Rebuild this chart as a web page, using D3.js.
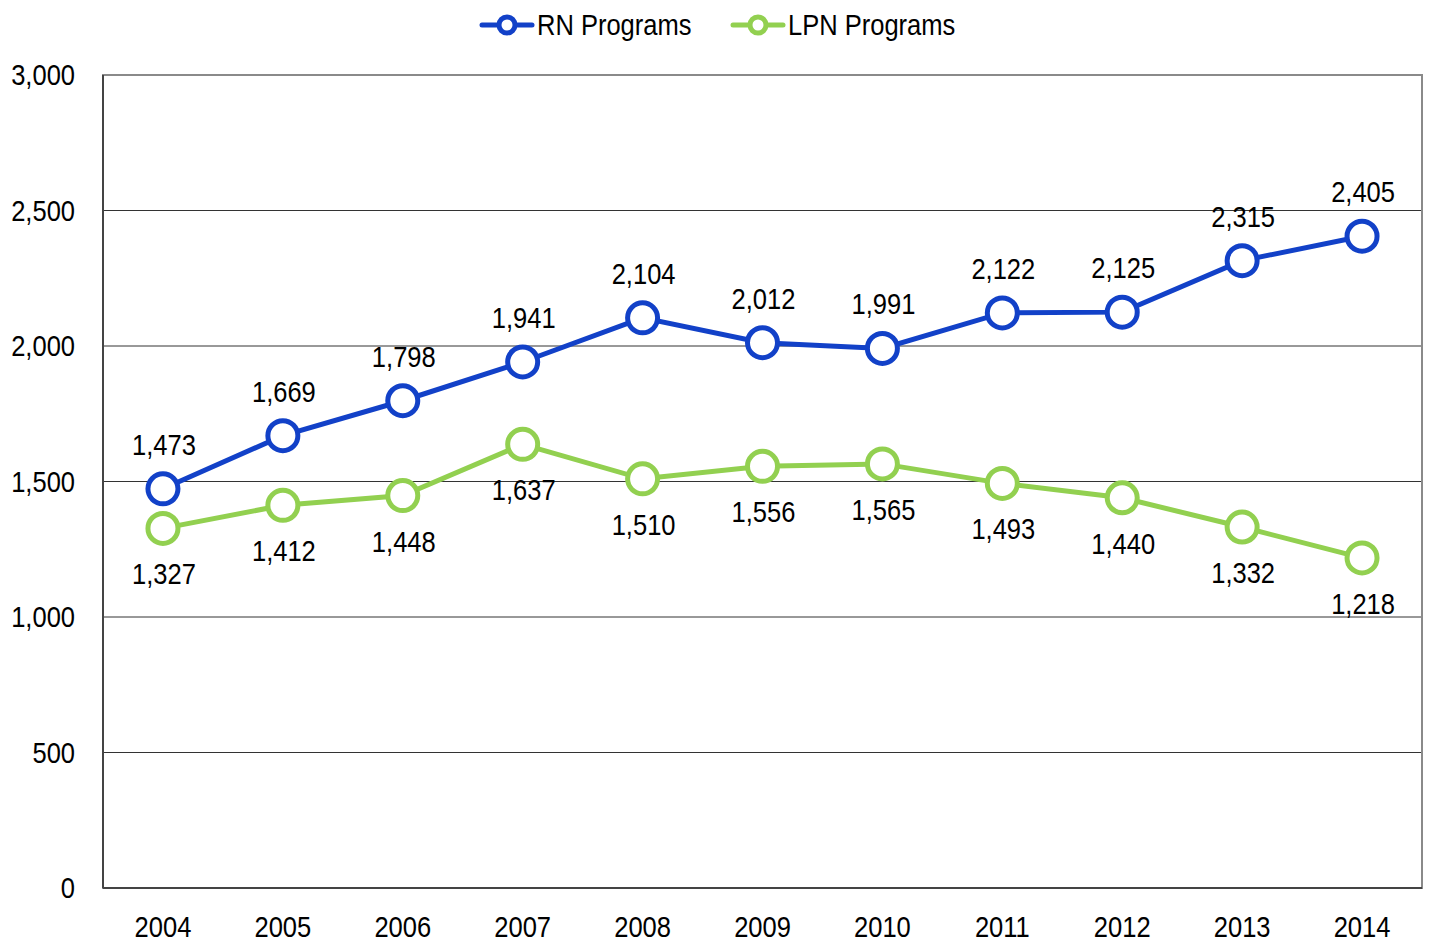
<!DOCTYPE html>
<html>
<head>
<script src="https://d3js.org/d3.v7.min.js"></script>
<style>
  body { margin: 0; background: #fff; }
  text { font-family: "Liberation Sans Narrow", "Arial Narrow", "Liberation Sans", sans-serif; fill: #000; font-size: 29px; }
</style>
</head>
<body>
<svg id="chart"></svg>
<script>
const years = ["2004","2005","2006","2007","2008","2009","2010","2011","2012","2013","2014"];
const rnValues = [1473, 1669, 1798, 1941, 2104, 2012, 1991, 2122, 2125, 2315, 2405];
const lpnValues = [1327, 1412, 1448, 1637, 1510, 1556, 1565, 1493, 1440, 1332, 1218];
const yTicks = [0, 500, 1000, 1500, 2000, 2500, 3000];
const seriesNames = ["RN Programs", "LPN Programs"];

const WIDTH = 1430, HEIGHT = 944;
const LEFT = 103, RIGHT = 1422, TOP = 75, BOTTOM = 888;
const BLUE = "#1241c8", GREEN = "#92d050";
const SQUEEZE = 0.88; // narrow font look

const svg = d3.select("#chart").attr("width", WIDTH).attr("height", HEIGHT);

const x = d3.scaleBand().domain(years).range([LEFT, RIGHT]);
const y = d3.scaleLinear().domain([0, 3000]).range([BOTTOM, TOP]);
const fmt = d3.format(",");

// place text with horizontal squeeze
function narrow(sel, fx, fy) {
  sel.attr("transform", (d, i) => `translate(${fx(d, i)},${fy(d, i)}) scale(${SQUEEZE},1)`);
}

// gridlines
svg.append("g")
  .selectAll("line")
  .data(yTicks.filter(d => d > 0 && d < 3000))
  .join("line")
  .attr("x1", LEFT).attr("x2", RIGHT)
  .attr("y1", d => y(d)).attr("y2", d => y(d))
  .attr("stroke", "#333").attr("stroke-width", 1);

// frame
svg.append("rect")
  .attr("x", LEFT).attr("y", TOP)
  .attr("width", RIGHT - LEFT).attr("height", BOTTOM - TOP)
  .attr("fill", "none").attr("stroke", "#8a8a8a").attr("stroke-width", 2);
svg.append("line")
  .attr("x1", LEFT).attr("x2", RIGHT).attr("y1", BOTTOM).attr("y2", BOTTOM)
  .attr("stroke", "#444").attr("stroke-width", 2);
svg.append("line")
  .attr("x1", LEFT).attr("x2", LEFT).attr("y1", TOP).attr("y2", BOTTOM)
  .attr("stroke", "#444").attr("stroke-width", 2);

// y axis labels
svg.append("g")
  .selectAll("text")
  .data(yTicks)
  .join("text")
  .attr("text-anchor", "end")
  .text(d => fmt(d))
  .call(narrow, () => 75, d => y(d) + 10);

// x axis labels
svg.append("g")
  .selectAll("text")
  .data(years)
  .join("text")
  .attr("text-anchor", "middle")
  .text(d => d)
  .call(narrow, d => x(d) + x.bandwidth() / 2, () => 937);

const cx = d => x(d) + x.bandwidth() / 2;
const line = d3.line().x(d => cx(d.year)).y(d => y(d.value));

function drawSeries(values, color, labelOffset) {
  const data = years.map((yr, i) => ({ year: yr, value: values[i] }));
  svg.append("path")
    .datum(data)
    .attr("d", line)
    .attr("fill", "none")
    .attr("stroke", color)
    .attr("stroke-width", 5);
  svg.append("g")
    .selectAll("circle")
    .data(data)
    .join("circle")
    .attr("cx", d => cx(d.year))
    .attr("cy", d => y(d.value))
    .attr("r", 15)
    .attr("fill", "#fff")
    .attr("stroke", color)
    .attr("stroke-width", 5);
  svg.append("g")
    .selectAll("text")
    .data(data)
    .join("text")
    .attr("text-anchor", "middle")
    .text(d => fmt(d.value))
    .call(narrow, d => cx(d.year) + 1, d => y(d.value) + labelOffset);
}

drawSeries(lpnValues, GREEN, 56);
drawSeries(rnValues, BLUE, -34);

// legend
const legend = [
  { name: seriesNames[0], color: BLUE, x: 480 },
  { name: seriesNames[1], color: GREEN, x: 731 }
];
const lg = svg.append("g").selectAll("g").data(legend).join("g")
  .attr("transform", d => `translate(${d.x},25)`);
lg.append("line")
  .attr("x1", 2).attr("x2", 52).attr("y1", 0).attr("y2", 0)
  .attr("stroke", d => d.color).attr("stroke-width", 5).attr("stroke-linecap", "round");
lg.append("circle")
  .attr("cx", 27).attr("cy", 0).attr("r", 8)
  .attr("fill", "#fff").attr("stroke", d => d.color).attr("stroke-width", 5);
lg.append("text")
  .text(d => d.name)
  .call(narrow, () => 57, () => 10);
</script>
</body>
</html>
